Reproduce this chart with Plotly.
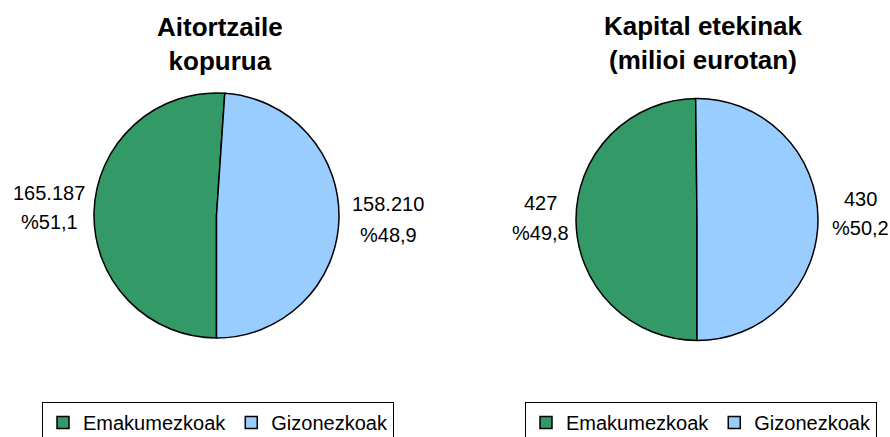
import plotly.graph_objects as go

# ---- data ----
categories = ["Emakumezkoak", "Gizonezkoak"]
declarants = [165187, 158210]          # Aitortzaile kopurua
capital = [427, 430]                   # Kapital etekinak (milioi eurotan)
titles = ["Aitortzaile<br>kopurua", "Kapital etekinak<br>(milioi eurotan)"]
colors = ["#339966", "#99CCFF"]

W, H = 890, 437
FONT = "Liberation Sans, Arial, sans-serif"


def fmt_num(v):
    return f"{v:,}".replace(",", ".")


def fmt_pct(v, total):
    return "%" + f"{100 * v / total:.1f}".replace(".", ",")


def px(x):
    return x / W


def py(y):
    return 1 - y / H


fig = go.Figure()

pies = [
    dict(values=declarants, dom_x=(94, 339), dom_y=(92, 339), legend="legend", group="g1"),
    dict(values=capital, dom_x=(576, 818), dom_y=(96, 343), legend="legend2", group="g2"),
]

for p in pies:
    fig.add_trace(go.Pie(
        labels=categories,
        values=p["values"],
        sort=False,
        direction="clockwise",
        rotation=180,
        marker=dict(colors=colors, line=dict(color="black", width=1.5)),
        textinfo="none",
        hoverinfo="label+value+percent",
        domain=dict(x=[px(p["dom_x"][0]), px(p["dom_x"][1])],
                    y=[py(p["dom_y"][1]), py(p["dom_y"][0])]),
        legend=p["legend"],
        legendgroup=p["group"],
    ))

annotations = []
# titles
for t, (cx, cy) in zip(titles, [(220, 44), (703, 43)]):
    annotations.append(dict(
        text=f"<b>{t}</b>", x=px(cx), y=py(cy), xref="paper", yref="paper",
        showarrow=False, xanchor="center", yanchor="middle",
        font=dict(family=FONT, size=26, color="black")))

# slice labels (value + percentage)
label_pos = [
    [(49, 193, 222), (388, 204, 235)],
    [(540, 203, 233), (860, 199, 228)],
]
for vals, positions in zip([declarants, capital], label_pos):
    total = sum(vals)
    for v, (cx, y1, y2) in zip(vals, positions):
        for txt, yy in [(fmt_num(v), y1), (fmt_pct(v, total), y2)]:
            annotations.append(dict(
                text=txt, x=px(cx), y=py(yy), xref="paper", yref="paper",
                showarrow=False, xanchor="center", yanchor="middle",
                font=dict(family=FONT, size=20, color="black")))

legend_common = dict(
    orientation="h", xanchor="left", yanchor="top",
    xref="container", yref="container",
    bordercolor="black", borderwidth=1, bgcolor="white",
    font=dict(family=FONT, size=20, color="black"),
    itemwidth=30, traceorder="normal",
)

fig.update_layout(
    width=W, height=H,
    margin=dict(l=0, r=0, t=0, b=0, autoexpand=False),
    paper_bgcolor="white", plot_bgcolor="white",
    showlegend=True,
    legend=dict(x=px(42), y=py(402), **legend_common),
    legend2=dict(x=px(525), y=py(402), **legend_common),
    annotations=annotations,
)

fig.write_html(
    "out.html",
    config={"displayModeBar": False},
    post_script="document.body.style.margin='0';document.body.style.padding='0';",
)
